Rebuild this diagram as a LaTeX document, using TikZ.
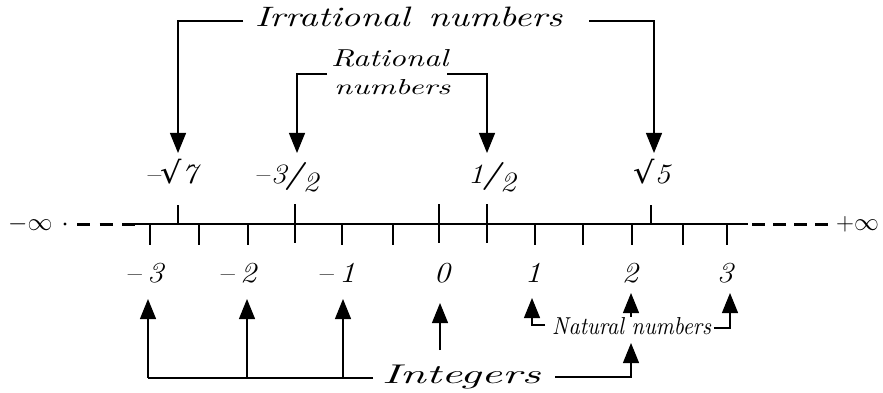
\documentclass[tikz,border=0pt]{standalone}
\usepackage{fontspec}
\usepackage{graphicx}
\newfontfamily\symf{DejaVu Sans}
\usetikzlibrary{arrows.meta}
\newcommand\fs[1]{\fontsize{#1}{#1}\selectfont\itshape}
\newcommand\fitbox[3]{\resizebox{#1pt}{#2pt}{\itshape #3}}
\newcommand\thslash{{\bfseries /}}
\newcommand\rt{{\upshape\symf\fontsize{30}{30}\selectfont √}}
\newcommand\dg[1]{\scalebox{1.12}[1]{#1}}
\tikzset{
  conn/.style={line width=1.2pt},
  arr/.style={conn,-{Triangle[width=16pt,length=20pt]}},
  tickmark/.style={line width=2pt},
  txt/.style={inner sep=0pt, anchor=base west},
  lbl/.style={inner sep=0pt, anchor=base},
}
\begin{document}
\begin{tikzpicture}[x=1pt,y=-1pt]
\useasboundingbox (0,0) rectangle (883,393);
% axis
\coordinate (axL) at (135,224);
\coordinate (axR) at (748,224);
\draw[line width=1.3pt] (axL) -- (axR);
\coordinate (dL) at (77,224);
\draw[line width=3pt, dash pattern=on 13pt off 9.5pt] (dL) -- (axL);
\fill (65,224) circle (1.7);
\coordinate (dR1) at (752,224);
\coordinate (dR2) at (828,224);
\draw[line width=3pt, dash pattern=on 13pt off 8pt] (dR1) -- (dR2);
\node[inner sep=0pt, anchor=west] (minf) at (8,224) {\fontsize{27}{27}\selectfont$-\infty$};
\node[inner sep=0pt, anchor=west] (pinf) at (836,224) {\fontsize{27}{27}\selectfont$+\infty$};
% ticks
\foreach \x in {150,199,248,342,393,535,583,632,683,727}
  \draw[tickmark] (\x,224) -- (\x,245);
\foreach \x in {295,439,487}
  \draw[tickmark] (\x,204) -- (\x,243);
\foreach \x in {178,651}
  \draw[tickmark] (\x,205) -- (\x,224);
% bottom labels
\node[lbl] (lm3) at (144,282) {\fs{29}\dg{--\kern0.2em3}};
\node[lbl] (lm2) at (237,282) {\fs{29}\dg{--\kern0.2em2}};
\node[lbl] (lm1) at (336,282) {\fs{29}\dg{--\kern0.2em1}};
\node[lbl] (l0) at (442,282) {\fs{29}\dg{0}};
\node[lbl] (l1) at (533,282) {\fs{29}\dg{1}};
\node[lbl] (l2) at (630,282) {\fs{29}\dg{2}};
\node[lbl] (l3) at (725,282) {\fs{29}\dg{3}};
% top labels
\node[lbl] (ls7) at (171,183) {\fs{28}\dg{--\kern0.02em\rt\kern-0.02em7}};
\node[lbl] (l32) at (286,183) {\fs{28}\dg{--\kern0.05em3\kern-0.05em\thslash\kern-0.02em\raisebox{-0.3em}{2}}};
\node[lbl] (l12) at (492,183) {\fs{28}\dg{1\kern-0.05em\thslash\kern-0.02em\raisebox{-0.3em}{2}}};
\node[lbl] (ls5) at (652,183) {\fs{28}\dg{\rt\kern-0.02em5}};
% texts
\node[txt] (irr) at (255,27) {\fitbox{307}{19.5}{Irrational\hspace{0.15em} numbers}};
\node[txt] (rat1) at (331,67) {\fitbox{117}{17}{Rational}};
\node[txt] (rat2) at (334,95) {\fitbox{116}{15}{numbers}};
\node[txt] (nat) at (552,334) {\fitbox{159}{17}{Natural numbers}};
\node[txt] (int) at (382,383) {\fitbox{158}{18.5}{Integers}};
% top arrows
\coordinate (a1) at (178,153);
\coordinate (a2) at (297,153);
\coordinate (a3) at (487,153);
\coordinate (a4) at (654,153);
\coordinate (i1) at (243,21);
\coordinate (i2) at (589,21);
\coordinate (r1) at (327,74);
\coordinate (r2) at (447,74);
\draw[arr] (i1) -| (a1);
\draw[arr] (i2) -| (a4);
\draw[arr] (r1) -| (a2);
\draw[arr] (r2) -| (a3);
% integers arrows
\coordinate (ib1) at (148,378);
\coordinate (b1) at (148,299);
\coordinate (b2) at (247,299);
\coordinate (b3) at (343,299);
\coordinate (z0) at (440,350);
\coordinate (b4) at (440,303);
\coordinate (b6) at (631,343);
\coordinate (ie) at (555,377);
\draw[conn] ([xshift=-9pt,yshift=5pt]int.base west) -- (ib1);
\draw[arr] (ib1) -- (b1);
\draw[arr] (b2 |- ib1) -- (b2);
\draw[arr] (b3 |- ib1) -- (b3);
\draw[arr] (z0) -- (b4);
\draw[arr] (ie) -| (b6);
% natural arrows
\coordinate (n1) at (532,298);
\coordinate (n2) at (631,293);
\coordinate (n3) at (730,293);
\coordinate (ne) at (714,328);
\draw[arr] ([xshift=-7pt,yshift=9pt]nat.base west) -| (n1);
\draw[arr] (nat.north -| n2) -- (n2);
\draw[arr] (ne) -| (n3);
\end{tikzpicture}
\end{document}
